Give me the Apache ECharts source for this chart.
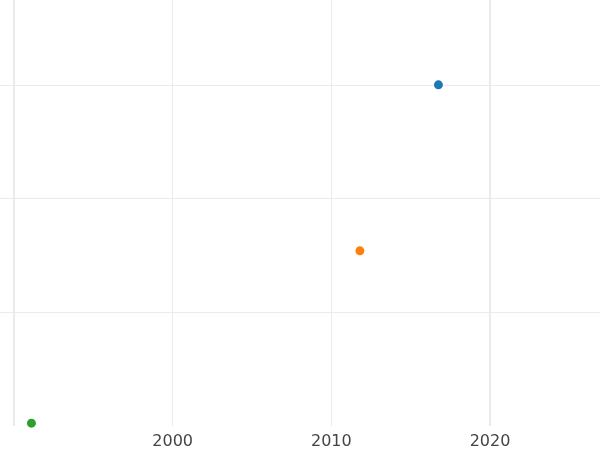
<!DOCTYPE html>
<html>
<head>
<meta charset="utf-8">
<script src="https://cdn.jsdelivr.net/npm/echarts@6/dist/echarts.min.js"></script>
<style>html,body{margin:0;padding:0;background:#fff;}#c{width:600px;height:450px;}</style>
</head>
<body>
<div id="c"></div>
<script>
const seriesNames = ['A', 'B', 'C'];
const seriesColors = ['#1f77b4', '#ff7f0e', '#2ca02c'];
const xValues = [2016.75, 2011.8, 1991.1];
const yValues = [3.0, 1.54, 0.025];
const xTickLabels = [2000, 2010, 2020];
const majorYears = [1990, 2020];

const chart = echarts.init(document.getElementById('c'), null, {renderer: 'canvas'});
chart.setOption({
  animation: false,
  backgroundColor: '#ffffff',
  grid: {left: 0, right: 0, top: 0, bottom: 23, containLabel: false},
  xAxis: {
    type: 'value', min: 1989.118, max: 2026.933,
    axisLine: {show: false}, axisTick: {show: false},
    axisLabel: {
      color: '#444444', fontSize: 16, fontFamily: 'DejaVu Sans', margin: 8,
      showMinLabel: false, showMaxLabel: false,
      formatter: v => xTickLabels.indexOf(v) >= 0 ? String(v) : ''
    },
    splitLine: {show: true, showMinLine: false, showMaxLine: false, lineStyle: {color: '#ebebeb', width: 1}}
  },
  yAxis: {
    type: 'value', min: 0, max: 3.746,
    axisLine: {show: false}, axisTick: {show: false}, axisLabel: {show: false},
    splitLine: {show: true, showMinLine: false, showMaxLine: false, lineStyle: {color: '#ebebeb', width: 1}}
  },
  series: seriesNames.map((n, i) => ({
    name: n, type: 'scatter', symbolSize: 9, z: 3,
    itemStyle: {color: seriesColors[i], opacity: 1},
    data: [[xValues[i], yValues[i]]],
    markLine: i === 0 ? {
      silent: true, symbol: ['none', 'none'], label: {show: false},
      lineStyle: {color: '#ebebeb', width: 2, type: 'solid'},
      z: 1,
      data: majorYears.map(y => ({xAxis: y}))
    } : undefined
  }))
});
</script>
</body>
</html>
